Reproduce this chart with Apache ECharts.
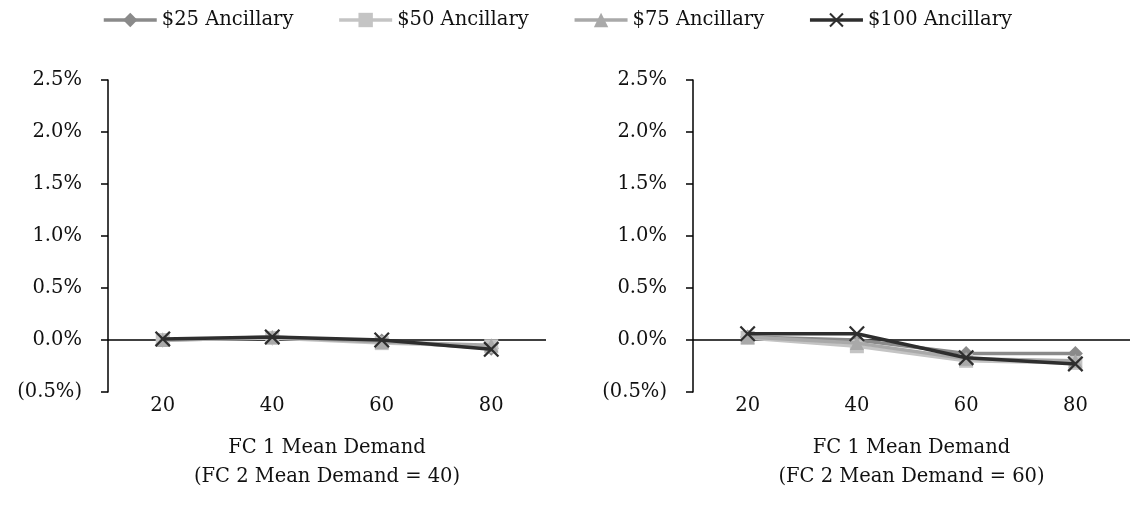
<!DOCTYPE html>
<html>
<head>
<meta charset="utf-8">
<script src="https://cdn.jsdelivr.net/npm/echarts@6/dist/echarts.min.js"></script>
<style>html,body{margin:0;padding:0;background:#fff}#c{width:1130px;height:525px}</style>
</head>
<body>
<div id="c"></div>
<script>
const categories = ['20', '40', '60', '80'];
const seriesNames = ['$25 Ancillary', '$50 Ancillary', '$75 Ancillary', '$100 Ancillary'];
// Left panel: FC 2 Mean Demand = 40 (values in %)
const left25 = [0.00, 0.02, -0.01, -0.08];
const left50 = [0.00, 0.02, -0.03, -0.06];
const left75 = [0.00, 0.03, -0.02, -0.05];
const left100 = [0.01, 0.03, 0.00, -0.09];
// Right panel: FC 2 Mean Demand = 60 (values in %)
const right25 = [0.03, 0.00, -0.13, -0.13];
const right50 = [0.02, -0.06, -0.20, -0.22];
const right75 = [0.03, -0.03, -0.18, -0.20];
const right100 = [0.06, 0.06, -0.17, -0.23];
const xTitleLeft = 'FC 1 Mean Demand\n(FC 2 Mean Demand = 40)';
const xTitleRight = 'FC 1 Mean Demand\n(FC 2 Mean Demand = 60)';

const FONT = 'DejaVu Serif';
const FS = 19.5;
const crossPath = 'path://M1,0 L5,4 L9,0 L10,1 L6,5 L10,9 L9,10 L5,6 L1,10 L0,9 L4,5 L0,1 Z';
const styles = [
  {color: '#8a8a8a', symbol: 'diamond', size: 15},
  {color: '#c4c4c4', symbol: 'rect', size: 14},
  {color: '#a9a9a9', symbol: 'triangle', size: 14},
  {color: '#2e2e2e', symbol: crossPath, size: 16}
];
const leftData = [left25, left50, left75, left100];
const rightData = [right25, right50, right75, right100];

function yAxis(idx) {
  return {
    type: 'value', gridIndex: idx, min: -0.5, max: 2.5, interval: 0.5,
    axisLine: {show: true, lineStyle: {color: '#000', width: 1.5}},
    axisTick: {show: true, length: 7, lineStyle: {color: '#000', width: 1.5}},
    splitLine: {show: false},
    axisLabel: {
      margin: 26, color: '#111', fontFamily: FONT, fontSize: FS,
      formatter: v => v < 0 ? '(' + (-v).toFixed(1) + '%)' : v.toFixed(1) + '%'
    }
  };
}
function xAxis(idx, title) {
  return {
    type: 'category', gridIndex: idx, data: categories,
    axisLine: {show: false}, axisTick: {show: false},
    axisLabel: {margin: 4, color: '#111', fontFamily: FONT, fontSize: FS},
    name: title, nameLocation: 'middle', nameGap: 41,
    nameTextStyle: {color: '#111', fontFamily: FONT, fontSize: FS, lineHeight: 29, verticalAlign: 'top'}
  };
}
function makeSeries(data, idx) {
  return data.map((d, i) => {
    const s = {
      name: seriesNames[i], type: 'line', xAxisIndex: idx, yAxisIndex: idx,
      data: d, symbol: styles[i].symbol, symbolSize: styles[i].size,
      lineStyle: {color: styles[i].color, width: 3.5},
      itemStyle: {color: styles[i].color},
      z: 3 + i
    };
    if (i === 0) {
      s.markLine = {
        silent: true, symbol: 'none', label: {show: false},
        lineStyle: {color: '#000', width: 1.5, type: 'solid'},
        data: [{yAxis: 0}], z: 1
      };
    }
    return s;
  });
}

const chart = echarts.init(document.getElementById('c'));
chart.setOption({
  animation: false,
  backgroundColor: '#fff',
  legend: {
    top: 5, left: 97, itemWidth: 53, itemHeight: 18, itemGap: 44,
    lineStyle: {width: 3.5},
    textStyle: {fontFamily: FONT, fontSize: FS, color: '#111'},
    data: seriesNames
  },
  grid: [
    {left: 108, right: 584, top: 80, bottom: 133},
    {left: 693, right: 0, top: 80, bottom: 133}
  ],
  xAxis: [xAxis(0, xTitleLeft), xAxis(1, xTitleRight)],
  yAxis: [yAxis(0), yAxis(1)],
  series: [...makeSeries(leftData, 0), ...makeSeries(rightData, 1)]
});
</script>
</body>
</html>
